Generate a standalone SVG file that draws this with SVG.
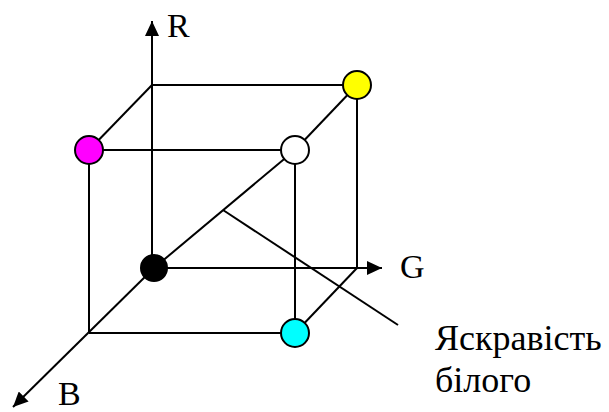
<svg xmlns="http://www.w3.org/2000/svg" width="609" height="412" viewBox="0 0 609 412">
<defs>
<style>
.e{stroke:#000;stroke-width:2;fill:none}
.n{stroke:#000;stroke-width:2}
.t{font-family:"Liberation Serif","Times New Roman",serif;fill:#000}
</style>
<marker id="ah" markerWidth="16" markerHeight="14" refX="15" refY="7" orient="auto" markerUnits="userSpaceOnUse">
<path d="M0,0 L15,7 L0,14 Z" fill="#000"/>
</marker>
</defs>
<rect width="609" height="412" fill="#fff"/>
<g id="connectors">
<line class="e" x1="152" y1="268" x2="152" y2="21" marker-end="url(#ah)"/>
<line class="e" x1="154" y1="268" x2="382" y2="268" marker-end="url(#ah)"/>
<line class="e" x1="154" y1="268" x2="13" y2="407" marker-end="url(#ah)"/>
<line class="e" x1="152" y1="85" x2="357" y2="85"/>
<line class="e" x1="152" y1="85" x2="89" y2="150"/>
<line class="e" x1="89" y1="150" x2="295" y2="150"/>
<line class="e" x1="295" y1="150" x2="357" y2="85"/>
<line class="e" x1="357" y1="85" x2="357" y2="268"/>
<line class="e" x1="295" y1="150" x2="295" y2="333"/>
<line class="e" x1="89" y1="150" x2="89" y2="333"/>
<line class="e" x1="89" y1="333" x2="295" y2="333"/>
<line class="e" x1="295" y1="333" x2="357" y2="268"/>
<line class="e" x1="154" y1="268" x2="295" y2="150"/>
<line class="e" x1="223" y1="210" x2="398" y2="325"/>
</g>
<g id="node-magenta"><circle class="n" cx="89" cy="150" r="14" fill="#ff00ff"/></g>
<g id="node-yellow"><circle class="n" cx="357" cy="85" r="14" fill="#ffff00"/></g>
<g id="node-white"><circle class="n" cx="295" cy="150" r="14" fill="#ffffff"/></g>
<g id="node-cyan"><circle class="n" cx="295" cy="333" r="14" fill="#00ffff"/></g>
<g id="node-black"><circle class="n" cx="154" cy="268" r="13" fill="#000"/></g>
<g id="labels">
<text class="t" x="167" y="37" font-size="34">R</text>
<text class="t" x="400" y="278" font-size="34">G</text>
<text class="t" x="58" y="405" font-size="34">B</text>
<text class="t" x="435" y="350" font-size="36">Яскравість</text>
<text class="t" x="435" y="392" font-size="36">білого</text>
</g>
</svg>
